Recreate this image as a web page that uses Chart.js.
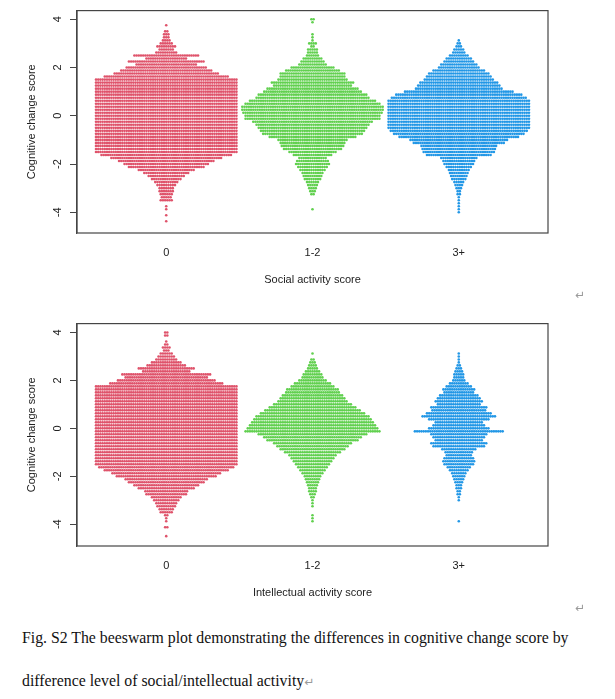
<!DOCTYPE html>
<html>
<head>
<meta charset="utf-8">
<script src="https://cdn.jsdelivr.net/npm/chart.js@4.4.1/dist/chart.umd.min.js"></script>
<style>
  body { margin: 0; background: #fff; }
  #page { position: relative; width: 615px; height: 699px; overflow: hidden; background: #fff; }
  .panel { position: absolute; left: 0; width: 615px; height: 300px; }
  .cap { position: absolute; left: 22px; font: 15.8px/20px "Liberation Serif", "Times New Roman", serif; color: #111; white-space: nowrap; }
  .mark { color: #9a9a9a; font: 12px/12px "DejaVu Sans", sans-serif; }
  .pm { position: absolute; }
</style>
</head>
<body>
<div id="page">
  <div class="panel" style="top:0"><canvas id="social"></canvas></div>
  <span class="mark pm" style="left:575px; top:289px">↵</span>
  <div class="panel" style="top:313px"><canvas id="intellectual"></canvas></div>
  <span class="mark pm" style="left:575px; top:602px">↵</span>
  <div class="cap" style="top:628px">Fig. S2 The beeswarm plot demonstrating the differences in cognitive change score by</div>
  <div class="cap" style="top:671px">difference level of social/intellectual activity<span class="mark">↵</span></div>
</div>

<script>
"use strict";

// groups on the x axis
var categories = ["0", "1-2", "3+"];
var colors = ["#DF536B", "#61D04F", "#2297E6"];

// y ticks
var yTicks = [-4, -2, 0, 2, 4];

// points per swarm row, rows run from 4 down to -4.5 in steps of 0.125
var binTop = 4;
var binStep = 0.125;

var socialZero = [
  0, 0, 1, 0, 2, 3, 3, 4,
  6, 9, 7, 10, 30, 19, 35, 28,
  37, 42, 48, 57, 65, 65, 65, 65,
  65, 65, 65, 65, 65, 65, 65, 65,
  65, 65, 65, 65, 65, 65, 65, 65,
  65, 65, 65, 65, 65, 60, 51, 44,
  39, 35, 26, 21, 17, 14, 11, 9,
  7, 7, 6, 5, 6, 0, 1, 1,
  0, 1, 0, 1, 0
];
var socialMid = [
  2, 1, 0, 0, 0, 1, 1, 1,
  4, 2, 5, 5, 6, 9, 11, 13,
  20, 25, 30, 30, 32, 38, 36, 42,
  45, 50, 52, 58, 62, 65, 65, 64,
  62, 62, 55, 52, 50, 48, 46, 40,
  32, 30, 29, 27, 22, 18, 13, 15,
  16, 14, 12, 10, 9, 8, 6, 5,
  4, 3, 2, 0, 0, 0, 0, 1,
  0, 0, 0, 0, 0
];
var socialHigh = [
  0, 0, 0, 0, 0, 0, 0, 1,
  2, 3, 5, 6, 9, 12, 14, 17,
  19, 24, 28, 30, 32, 36, 38, 40,
  50, 58, 62, 65, 65, 65, 65, 65,
  65, 65, 65, 65, 65, 63, 60, 55,
  45, 42, 35, 34, 33, 30, 17, 15,
  14, 12, 10, 9, 8, 7, 5, 4,
  3, 2, 2, 1, 1, 1, 1, 1,
  1, 0, 0, 0, 0
];

var intellectualZero = [
  2, 2, 0, 1, 2, 4, 3, 6,
  8, 10, 14, 18, 26, 22, 41, 38,
  45, 52, 65, 65, 65, 65, 65, 65,
  65, 65, 65, 65, 65, 65, 65, 65,
  65, 65, 65, 65, 65, 65, 65, 65,
  65, 65, 65, 65, 65, 62, 57, 50,
  46, 38, 35, 30, 26, 20, 19, 14,
  12, 10, 9, 7, 6, 2, 1, 1,
  0, 2, 0, 0, 1
];
var intellectualMid = [
  0, 0, 0, 0, 0, 0, 0, 1,
  0, 2, 3, 4, 5, 7, 9, 10,
  13, 17, 20, 24, 25, 28, 30, 32,
  36, 40, 44, 48, 52, 54, 56, 58,
  60, 62, 50, 45, 42, 36, 33, 30,
  26, 22, 20, 18, 16, 14, 12, 10,
  8, 7, 6, 5, 4, 4, 3, 2,
  1, 1, 1, 0, 0, 1, 1, 1,
  0, 0, 0, 0, 0
];
var intellectualHigh = [
  0, 0, 0, 0, 0, 0, 0, 1,
  1, 1, 1, 2, 3, 4, 5, 5,
  6, 9, 12, 15, 14, 18, 20, 22,
  20, 26, 25, 30, 34, 28, 22, 24,
  28, 41, 26, 24, 22, 26, 24, 16,
  13, 12, 14, 15, 14, 11, 9, 7,
  6, 5, 4, 3, 3, 2, 2, 1,
  1, 0, 0, 0, 0, 0, 0, 1,
  0, 0, 0, 0, 0
];

// horizontal distance between neighbouring dots, in x units
var dotGap = 0.015;

function swarm(counts, group) {
  var pts = [];
  counts.forEach(function (n, i) {
    var y = binTop - i * binStep;
    for (var j = 0; j < n; j++) {
      pts.push({ x: group + (j - (n - 1) / 2) * dotGap, y: y });
    }
  });
  return pts;
}

var axisFont = { family: "'Liberation Sans', Arial, sans-serif", size: 11 };

// box round the plot and R style rotated y labels
var framePlugin = {
  id: "frame",
  afterDraw: function (chart) {
    var a = chart.chartArea, ctx = chart.ctx, ys = chart.scales.y;
    ctx.save();
    ctx.strokeStyle = "#454545";
    ctx.lineWidth = 1.2;
    ctx.strokeRect(a.left, a.top, a.right - a.left, a.bottom - a.top);
    ctx.fillStyle = "#222";
    ctx.font = "11px 'Liberation Sans', Arial, sans-serif";
    ctx.textAlign = "center";
    ctx.textBaseline = "middle";
    ys.ticks.forEach(function (t) {
      ctx.save();
      ctx.translate(a.left - 19, ys.getPixelForValue(t.value));
      ctx.rotate(-Math.PI / 2);
      ctx.fillText(String(t.value), 0, 0);
      ctx.restore();
    });
    ctx.restore();
  }
};

function makeChart(id, groups, xTitle, yMin, yMax) {
  return new Chart(document.getElementById(id), {
    type: "scatter",
    data: {
      datasets: groups.map(function (counts, g) {
        return {
          data: swarm(counts, g),
          backgroundColor: colors[g],
          borderWidth: 0,
          pointRadius: 1.3,
          pointHoverRadius: 1.3
        };
      })
    },
    options: {
      responsive: true,
      maintainAspectRatio: false,
      animation: false,
      events: [],
      layout: { padding: { left: 0, right: 67, top: 9, bottom: 0 } },
      plugins: { legend: { display: false }, tooltip: { enabled: false } },
      scales: {
        x: {
          type: "linear",
          min: -0.61,
          max: 2.61,
          afterBuildTicks: function (s) {
            s.ticks = categories.map(function (c, i) { return { value: i }; });
          },
          afterFit: function (s) { s.height = 67; },
          grid: { display: false, drawTicks: false },
          border: { display: false },
          ticks: {
            padding: 13,
            color: "#222",
            font: axisFont,
            maxRotation: 0,
            callback: function (v) { return categories[v]; }
          },
          title: { display: true, text: xTitle, color: "#222", font: axisFont, padding: { top: 0, bottom: 13 } }
        },
        y: {
          min: yMin,
          max: yMax,
          afterBuildTicks: function (s) {
            s.ticks = yTicks.map(function (v) { return { value: v }; });
          },
          afterFit: function (s) { s.width = 77; },
          grid: { display: true, drawOnChartArea: false, drawTicks: true, tickLength: 7, color: "#454545", lineWidth: 1 },
          border: { display: true, color: "#454545", width: 1.2 },
          ticks: { color: "rgba(0,0,0,0)", font: axisFont, padding: 4 },
          title: { display: true, text: "Cognitive change score", color: "#222", font: axisFont, padding: { top: 25, bottom: 0 } }
        }
      }
    },
    plugins: [framePlugin]
  });
}

makeChart("social", [socialZero, socialMid, socialHigh], "Social activity score", -4.86, 4.36);
makeChart("intellectual", [intellectualZero, intellectualMid, intellectualHigh], "Intellectual activity score", -4.91, 4.37);
</script>
</body>
</html>
